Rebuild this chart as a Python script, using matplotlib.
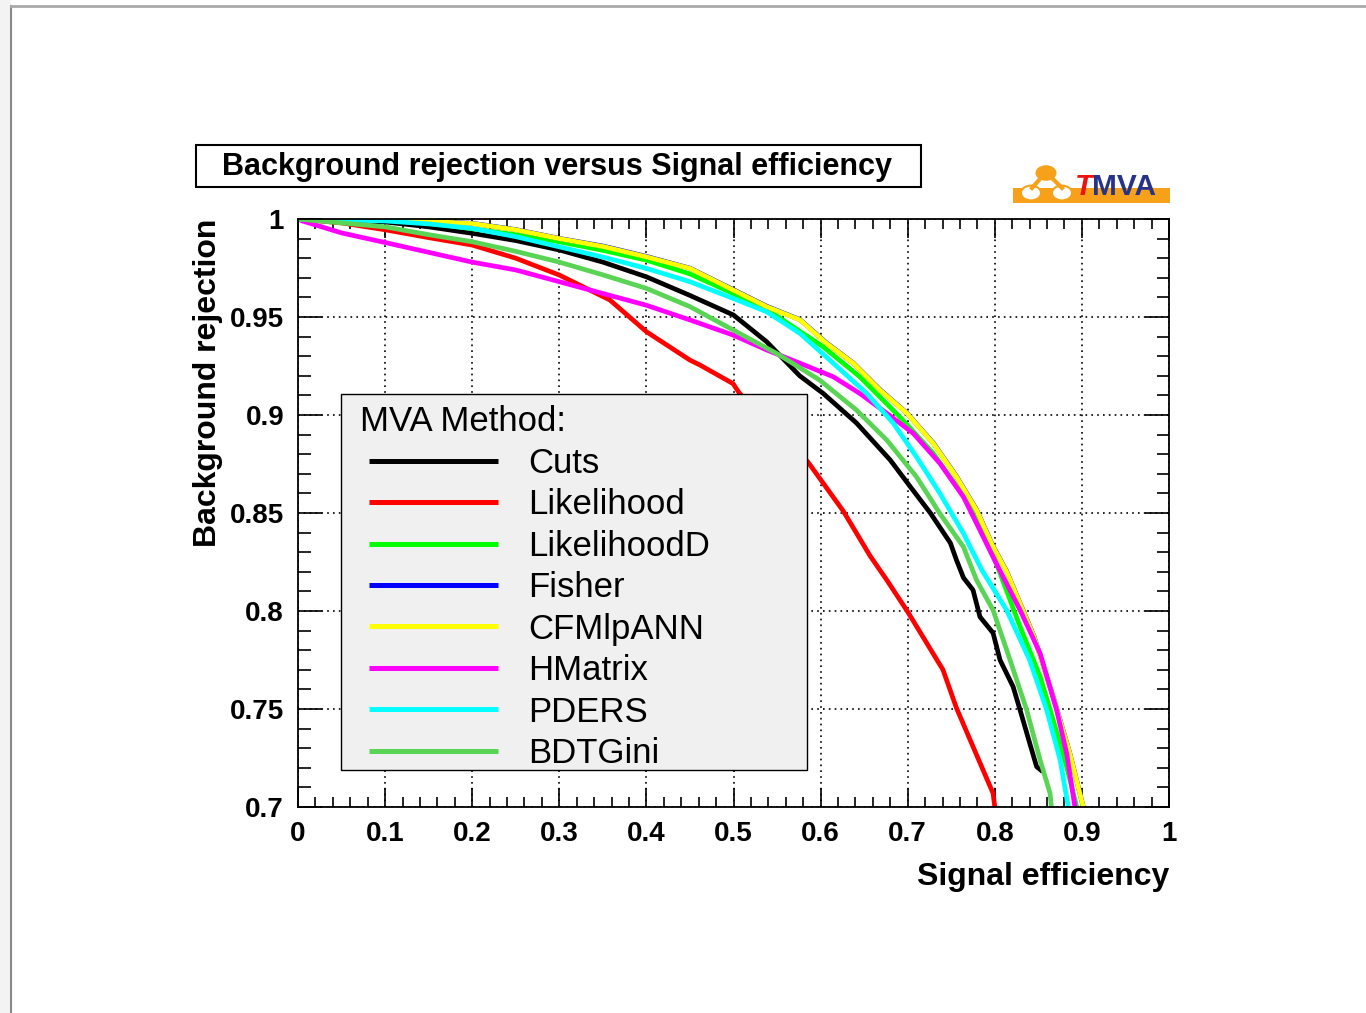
import matplotlib
matplotlib.use("Agg")
import matplotlib.pyplot as plt
from matplotlib.patches import Rectangle, Circle
from matplotlib.lines import Line2D
from matplotlib.legend_handler import HandlerLine2D

plt.rcParams["font.family"] = ["Liberation Sans", "DejaVu Sans"]

# --- ROC curves (signal eff, background rejection) ---
cuts_eff = [0, 0.05, 0.1, 0.15, 0.2, 0.25, 0.3, 0.35, 0.4, 0.45, 0.5, 0.538, 0.576,
            0.603, 0.641, 0.68, 0.703, 0.726, 0.749, 0.756, 0.764, 0.775, 0.783, 0.798,
            0.806, 0.821, 0.829, 0.84, 0.848, 0.855]
cuts_rej = [1.0, 0.9995, 0.9985, 0.996, 0.9927, 0.989, 0.9842, 0.978, 0.9705, 0.961,
            0.951, 0.9374, 0.92, 0.911, 0.896, 0.877, 0.8634, 0.85, 0.8347, 0.826,
            0.817, 0.8107, 0.797, 0.7888, 0.775, 0.7614, 0.7495, 0.7327, 0.7206, 0.718]

lik_eff = [0, 0.05, 0.1, 0.15, 0.2, 0.25, 0.3, 0.358, 0.4, 0.45, 0.4615, 0.4995,
           0.507, 0.5855, 0.626, 0.657, 0.676, 0.7, 0.7405, 0.756, 0.775, 0.798, 0.8]
lik_rej = [1.0, 0.998, 0.9945, 0.9905, 0.9867, 0.98, 0.9714, 0.9587, 0.9425, 0.928,
           0.9255, 0.916, 0.911, 0.876, 0.851, 0.828, 0.8158, 0.7996, 0.77, 0.7505,
           0.7308, 0.707, 0.7]

likd_eff = [0, 0.05, 0.1, 0.15, 0.2, 0.25, 0.3, 0.35, 0.4, 0.45, 0.4995, 0.538, 0.603,
            0.645, 0.691, 0.7294, 0.7677, 0.802, 0.829, 0.852, 0.867, 0.8825, 0.894]
likd_rej = [1.0, 0.9998, 0.9995, 0.998, 0.995, 0.992, 0.9884, 0.984, 0.979, 0.972,
            0.962, 0.954, 0.9348, 0.9195, 0.899, 0.8804, 0.8566, 0.824, 0.792, 0.7665,
            0.7444, 0.7206, 0.7]

fisher_eff = [0, 0.05, 0.1, 0.15, 0.2, 0.25, 0.3, 0.35, 0.4, 0.45, 0.4995, 0.538,
              0.5764, 0.607, 0.6376, 0.668, 0.699, 0.7294, 0.756, 0.779, 0.798, 0.8136,
              0.845, 0.868, 0.886, 0.9016]
fisher_rej = [1.0, 1.0, 0.9995, 0.9989, 0.9978, 0.9946, 0.9901, 0.9862, 0.9809, 0.9749,
              0.964, 0.9555, 0.9486, 0.9367, 0.9265, 0.913, 0.901, 0.8857, 0.8687,
              0.8517, 0.833, 0.8202, 0.7871, 0.7548, 0.7276, 0.7]

ann_eff = [0, 0.05, 0.1, 0.15, 0.2, 0.25, 0.3, 0.35, 0.4, 0.45, 0.4995, 0.538, 0.5764,
           0.607, 0.6376, 0.668, 0.699, 0.7294, 0.756, 0.779, 0.798, 0.8136, 0.845,
           0.868, 0.886, 0.9016]
ann_rej = [1.0, 1.0, 0.9995, 0.9988, 0.9977, 0.9945, 0.99, 0.986, 0.9807, 0.9748,
           0.9638, 0.9553, 0.9485, 0.9365, 0.9264, 0.9128, 0.9009, 0.8855, 0.8685,
           0.8515, 0.8328, 0.82, 0.7869, 0.7546, 0.7274, 0.7]

hm_eff = [0, 0.005, 0.05, 0.1, 0.15, 0.2, 0.25, 0.3, 0.35, 0.4, 0.45, 0.4995, 0.538,
          0.5764, 0.6146, 0.645, 0.676, 0.7065, 0.737, 0.764, 0.783, 0.802, 0.829,
          0.852, 0.871, 0.8825, 0.892]
hm_rej = [1.0, 0.999, 0.9929, 0.988, 0.983, 0.978, 0.974, 0.968, 0.962, 0.956, 0.9485,
          0.9408, 0.9332, 0.9264, 0.9195, 0.911, 0.9009, 0.8906, 0.8753, 0.8582,
          0.8412, 0.824, 0.8005, 0.7784, 0.7495, 0.7274, 0.7]

pders_eff = [0, 0.05, 0.1, 0.15, 0.2, 0.25, 0.3, 0.35, 0.4, 0.45, 0.4995, 0.538,
             0.5764, 0.6146, 0.653, 0.6835, 0.71, 0.737, 0.764, 0.785, 0.8135, 0.84,
             0.8596, 0.875, 0.8844]
pders_rej = [1.0, 0.9995, 0.999, 0.9975, 0.9952, 0.991, 0.9858, 0.9806, 0.9748, 0.968,
             0.9595, 0.9527, 0.9416, 0.9264, 0.911, 0.8958, 0.8787, 0.86, 0.8396, 0.821,
             0.8005, 0.775, 0.7495, 0.724, 0.7]

bdt_eff = [0, 0.05, 0.1, 0.15, 0.2, 0.25, 0.3, 0.35, 0.4, 0.45, 0.4995, 0.5496, 0.599,
           0.641, 0.676, 0.71, 0.737, 0.764, 0.779, 0.798, 0.8175, 0.8366, 0.852,
           0.8634, 0.865]
bdt_rej = [1.0, 0.998, 0.996, 0.992, 0.9884, 0.9835, 0.978, 0.9715, 0.9646, 0.9553,
           0.9434, 0.9314, 0.9178, 0.9026, 0.8872, 0.8685, 0.8497, 0.8327, 0.8158,
           0.8005, 0.775, 0.7495, 0.724, 0.707, 0.7]

methods = ["Cuts", "Likelihood", "LikelihoodD", "Fisher", "CFMlpANN", "HMatrix",
           "PDERS", "BDTGini"]
colors = ["black", "#ff0000", "#00ff00", "#0000ff", "#ffff00", "#ff00ff", "#00ffff",
          "#59d454"]
curves = [(cuts_eff, cuts_rej), (lik_eff, lik_rej), (likd_eff, likd_rej),
          (fisher_eff, fisher_rej), (ann_eff, ann_rej), (hm_eff, hm_rej),
          (pders_eff, pders_rej), (bdt_eff, bdt_rej)]

xticks = [0, 0.1, 0.2, 0.3, 0.4, 0.5, 0.6, 0.7, 0.8, 0.9, 1.0]
xticklabels = ["0", "0.1", "0.2", "0.3", "0.4", "0.5", "0.6", "0.7", "0.8", "0.9", "1"]
yticks = [0.7, 0.75, 0.8, 0.85, 0.9, 0.95, 1.0]
yticklabels = ["0.7", "0.75", "0.8", "0.85", "0.9", "0.95", "1"]

W, H = 1366, 1013


def fx(x):
    return x / W


def fy(y):
    return 1 - y / H


fig = plt.figure(figsize=(W / 100, H / 100), dpi=100)
ax = fig.add_axes([fx(298), fy(807), (1169 - 298) / W, (807 - 219) / H])
axw, axh = 1169 - 298, 807 - 219

for (e, r), c, name in zip(curves, colors, methods):
    ax.plot(e, r, color=c, lw=3.4, label=name, solid_capstyle="butt")

ax.set_xlim(0, 1)
ax.set_ylim(0.7, 1.0)
ax.set_xticks(xticks)
ax.set_xticklabels(xticklabels)
ax.set_yticks(yticks)
ax.set_yticklabels(yticklabels)
ax.set_xticks([i * 0.02 for i in range(51)], minor=True)
ax.set_yticks([0.7 + i * 0.01 for i in range(31)], minor=True)
ax.tick_params(which="both", direction="in", top=True, right=True, width=1.2,
               labelsize=20, pad=10)
ax.tick_params(axis="x", which="major", length=14)
ax.tick_params(axis="x", which="minor", length=7)
ax.tick_params(axis="y", which="major", length=17)
ax.tick_params(axis="y", which="minor", length=9)
for lab in ax.get_xticklabels() + ax.get_yticklabels():
    lab.set_fontweight("bold")
for s in ax.spines.values():
    s.set_linewidth(1.3)
ax.grid(True, which="major", color="black", linestyle=(0, (1, 2.5)), linewidth=1.2)

ax.set_xlabel("Signal efficiency", fontsize=23, fontweight="bold", loc="right")
ax.xaxis.set_label_coords(1.0, -0.0935)
ax.set_ylabel("Background rejection", fontsize=23, fontweight="bold", loc="top")
ax.yaxis.set_label_coords(-0.086, 1.0)

# legend box drawn separately, legend content placed on top of it
box_l, box_r, box_t, box_b = 341, 807, 394, 770
ax.add_patch(Rectangle(((box_l - 298) / axw, (807 - box_b) / axh),
                       (box_r - box_l) / axw, (box_b - box_t) / axh,
                       transform=ax.transAxes, fc="#f0f0f0", ec="black", lw=1.0,
                       zorder=4))
fs = 25 * 100 / 72.0
cont_l = 360
pad_px = 0.33 * fs
leg = ax.legend(title="MVA Method:", loc="upper left",
                bbox_to_anchor=((cont_l - pad_px - 298) / axw, (807 - box_t) / axh),
                borderaxespad=0, fontsize=25, title_fontsize=25,
                handlelength=(498 - cont_l) / fs, handletextpad=30 / fs,
                labelspacing=0.243, frameon=False, alignment="left", borderpad=0.33,
                handler_map={Line2D: HandlerLine2D(xpad=(369 - cont_l) / fs)})
leg.set_zorder(5)
for h in leg.legend_handles:
    h.set_linewidth(3.6)

# title box
fig.add_artist(Rectangle((fx(196), fy(187)), (921 - 196) / W, (187 - 145) / H,
                         transform=fig.transFigure, fill=False, ec="black", lw=1.5))
fig.text(fx(557), fy(167), "Background rejection versus Signal efficiency",
         ha="center", va="center", fontsize=22, fontweight="bold")

# TMVA logo
orange = "#f7a11a"
fig.add_artist(Rectangle((fx(1013), fy(203)), (1170 - 1013) / W, 15 / H,
                         transform=fig.transFigure, fc=orange, ec="none"))
fig.add_artist(Line2D([fx(1032), fx(1046), fx(1062)], [fy(188), fy(172), fy(188)],
                      transform=fig.transFigure, color=orange, lw=3))
fig.add_artist(Circle((fx(1046), fy(173)), 10.5 / W, transform=fig.transFigure,
                      fc=orange, ec="none"))
for cx in (1031, 1062):
    fig.add_artist(Circle((fx(cx), fy(193)), 10 / W, transform=fig.transFigure,
                          fc="white", ec=orange, lw=1.5))
fig.text(fx(1075), fy(195), "T", color="#ee1111", fontsize=21.5, fontweight="bold",
         fontstyle="italic", ha="left", va="baseline")
fig.text(fx(1092), fy(195), "MVA", color="#27338a", fontsize=21.5, fontweight="bold",
         ha="left", va="baseline")

# page border
fig.add_artist(Rectangle((0, 0), fx(11), 1, transform=fig.transFigure,
                         fc="#f3f3f3", ec="none"))
fig.add_artist(Line2D([fx(11), fx(11)], [0, fy(6)], transform=fig.transFigure,
                      color="#888888", lw=1.5))
fig.add_artist(Line2D([fx(11), 1], [fy(6), fy(6)], transform=fig.transFigure,
                      color="#aaaaaa", lw=2))

fig.savefig("out.png", dpi=100)
